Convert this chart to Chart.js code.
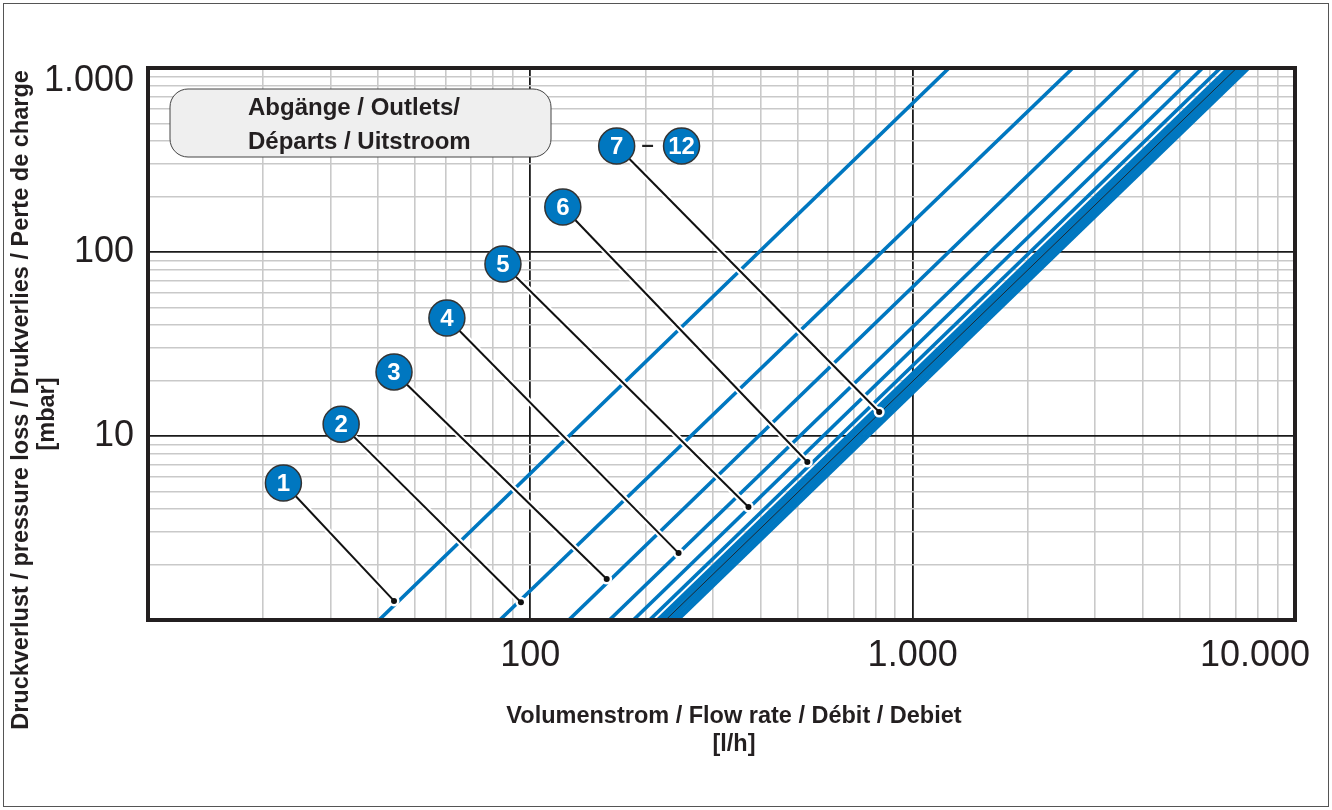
<!DOCTYPE html>
<html><head><meta charset="utf-8">
<script src="https://cdn.jsdelivr.net/npm/chart.js@4/dist/chart.umd.min.js"></script>
<style>html,body{margin:0;padding:0;background:#fff}#wrap{width:1332px;height:810px}canvas{display:block}</style>
</head><body><div id="wrap"><canvas id="c" width="1332" height="810"></canvas></div>
<script>
// ---- data ----
const curveNames = ['1','2','3','4','5','6','7','8','9','10','11','12'];
const flowAtLowP  = [40.2, 83.2, 126, 161, 186, 205, 215, 220, 226, 231, 237, 243];     // l/h at 1 mbar
const flowAtHighP = [1245, 2624, 3903, 5024, 5733, 6383, 6700, 6870, 7040, 7210, 7390, 7570]; // l/h at 1000 mbar
const pressureLow = 1, pressureHigh = 1000;

const markerLabels = ['1','2','3','4','5','6','7'];
const markerX = [22.6, 32.0, 44.0, 60.5, 84.8, 121.6, 168.2];
const markerY = [5.55, 11.6, 22.3, 43.8, 86.1, 175.6, 376.7];
const dotX = [44.0, 94.5, 158.4, 244.2, 372.0, 530.3, 817.4];
const dotY = [1.27, 1.25, 1.67, 2.31, 4.11, 7.22, 13.5];
const extraLabel = '12', extraX = 248.6, extraY = 376.7, dashX = 202.8;

const xTickValues = [100, 1000, 10000];
const xTickLabels = ['100', '1.000', '10.000'];
const yTickValues = [10, 100, 1000];
const yTickLabels = ['10', '100', '1.000'];
const xMin = 10, xMax = 10000, yMin = 1, yMax = 1000;

const legendLines = ['Abgänge / Outlets/', 'Départs / Uitstroom'];
const yTitle = ['Druckverlust / pressure loss / Drukverlies / Perte de charge', '[mbar]'];
const xTitle = ['Volumenstrom / Flow rate / Débit / Debiet', '[l/h]'];

// ---- styles ----
const BLUE = '#0077c0';
const FONT = '"Liberation Sans", Arial, sans-serif';

function logGrid(min, max) {
  const out = [];
  for (let d = min; d < max * 1.0001; d *= 10) {
    for (let k = 1; k <= 9; k++) { const v = k * d; if (v <= max * 1.0001) out.push(v); }
  }
  return out;
}
const isMajor = v => Math.abs(Math.log10(v) - Math.round(Math.log10(v))) < 1e-6;

const datasets = [];
curveNames.forEach((n, i) => {
  datasets.push({
    label: 'Curve ' + n,
    data: [{x: flowAtLowP[i], y: pressureLow}, {x: flowAtHighP[i], y: pressureHigh}],
    borderColor: BLUE, borderWidth: 3.6, pointRadius: 0, order: 40, borderCapStyle: 'butt'
  });
});
// thin dark line inside the cluster (curve 9 edge)
datasets.push({
  label: 'edge', data: [{x: flowAtLowP[8], y: pressureLow}, {x: flowAtHighP[8], y: pressureHigh}],
  borderColor: '#1d2a33', borderWidth: 1, pointRadius: 0, order: 35
});
markerLabels.forEach((m, i) => {
  const pts = [{x: markerX[i], y: markerY[i]}, {x: dotX[i], y: dotY[i]}];
  datasets.push({label: 'halo' + m, data: pts, borderColor: '#ffffff', borderWidth: 6, pointRadius: [0, 5.5],
    pointBackgroundColor: '#fff', pointBorderWidth: 0, order: 20});
  datasets.push({label: 'lead' + m, data: pts, borderColor: '#111', borderWidth: 2, pointRadius: [0, 3],
    pointBackgroundColor: '#111', pointBorderWidth: 0, order: 10});
});

function roundRect(ctx, x, y, w, h, r) {
  ctx.beginPath();
  ctx.moveTo(x + r, y); ctx.lineTo(x + w - r, y); ctx.arcTo(x + w, y, x + w, y + r, r);
  ctx.lineTo(x + w, y + h - r); ctx.arcTo(x + w, y + h, x + w - r, y + h, r);
  ctx.lineTo(x + r, y + h); ctx.arcTo(x, y + h, x, y + h - r, r);
  ctx.lineTo(x, y + r); ctx.arcTo(x, y, x + r, y, r); ctx.closePath();
}

const deco = {
  id: 'deco',
  beforeDraw(chart) {
    const ctx = chart.ctx; ctx.save(); ctx.fillStyle = '#fff'; ctx.fillRect(0, 0, chart.width, chart.height); ctx.restore();
  },
  afterDatasetsDraw(chart) {
    const ctx = chart.ctx, a = chart.chartArea, sx = chart.scales.x, sy = chart.scales.y;
    ctx.save();
    // plot frame
    ctx.strokeStyle = '#231f20'; ctx.lineWidth = 4;
    ctx.strokeRect(a.left, a.top, a.right - a.left, a.bottom - a.top);
    // numbered markers
    function bubble(txt, x, y) {
      ctx.beginPath(); ctx.arc(x, y, 18, 0, Math.PI * 2);
      ctx.fillStyle = BLUE; ctx.fill(); ctx.lineWidth = 1.5; ctx.strokeStyle = '#333'; ctx.stroke();
      ctx.fillStyle = '#fff'; ctx.font = 'bold 24px ' + FONT; ctx.textAlign = 'center'; ctx.textBaseline = 'middle';
      ctx.fillText(txt, x, y + 1);
    }
    markerLabels.forEach((m, i) => bubble(m, sx.getPixelForValue(markerX[i]), sy.getPixelForValue(markerY[i])));
    bubble(extraLabel, sx.getPixelForValue(extraX), sy.getPixelForValue(extraY));
    ctx.fillStyle = '#222'; ctx.font = 'bold 22px ' + FONT; ctx.textAlign = 'center'; ctx.textBaseline = 'middle';
    ctx.fillText('–', sx.getPixelForValue(dashX), sy.getPixelForValue(extraY));
    // legend box
    roundRect(ctx, a.left + 22, a.top + 21, 381, 68, 18);
    ctx.fillStyle = '#efefef'; ctx.fill(); ctx.lineWidth = 1; ctx.strokeStyle = '#444'; ctx.stroke();
    ctx.fillStyle = '#231f20'; ctx.font = 'bold 24px ' + FONT; ctx.textAlign = 'left';
    ctx.fillText(legendLines[0], a.left + 100, a.top + 40);
    ctx.fillText(legendLines[1], a.left + 100, a.top + 74);
    // tick labels
    ctx.fillStyle = '#231f20'; ctx.font = '36px ' + FONT; ctx.textBaseline = 'middle';
    xTickValues.forEach((v, i) => {
      let x = sx.getPixelForValue(v);
      const w = ctx.measureText(xTickLabels[i]).width;
      ctx.textAlign = 'center';
      if (x + w / 2 > chart.width - 22) { ctx.textAlign = 'right'; x = chart.width - 22; }
      ctx.fillText(xTickLabels[i], x, a.bottom + 36);
    });
    ctx.textAlign = 'right';
    yTickValues.forEach((v, i) => {
      let y = sy.getPixelForValue(v);
      if (y - 18 < a.top) y = a.top + 13;
      ctx.fillText(yTickLabels[i], a.left - 14, y);
    });
    // axis titles
    ctx.font = 'bold 23.5px ' + FONT; ctx.textAlign = 'center';
    ctx.fillText(xTitle[0], 734, 717);
    ctx.fillText(xTitle[1], 734, 745);
    ctx.save(); ctx.translate(22, 400); ctx.rotate(-Math.PI / 2);
    ctx.fillText(yTitle[0], 0, 0);
    ctx.translate(-14, 26); ctx.fillText(yTitle[1], 0, 0);
    ctx.restore();
    // outer frame
    ctx.strokeStyle = '#555'; ctx.lineWidth = 1;
    ctx.strokeRect(3.5, 3.5, chart.width - 7, chart.height - 7);
    ctx.restore();
  }
};

const gridX = logGrid(xMin, xMax), gridY = logGrid(yMin, yMax);
function scaleOpts(min, max, grid) {
  return {
    type: 'logarithmic', min, max,
    afterBuildTicks: s => { s.ticks = grid.map(v => ({value: v})); },
    ticks: {display: false},
    border: {display: false},
    grid: {
      drawTicks: false,
      color: c => isMajor(c.tick.value) ? '#1a1a1a' : '#c9c9c9',
      lineWidth: c => isMajor(c.tick.value) ? 1.8 : 1.6
    }
  };
}

new Chart(document.getElementById('c'), {
  type: 'line',
  data: {datasets},
  options: {
    responsive: false, animation: false, devicePixelRatio: 1,
    layout: {padding: {left: 148, right: 37, top: 68, bottom: 190}},
    plugins: {legend: {display: false}, tooltip: {enabled: false}},
    scales: {x: scaleOpts(xMin, xMax, gridX), y: scaleOpts(yMin, yMax, gridY)},
    elements: {line: {tension: 0}}
  },
  plugins: [deco]
});
</script>
</body></html>
